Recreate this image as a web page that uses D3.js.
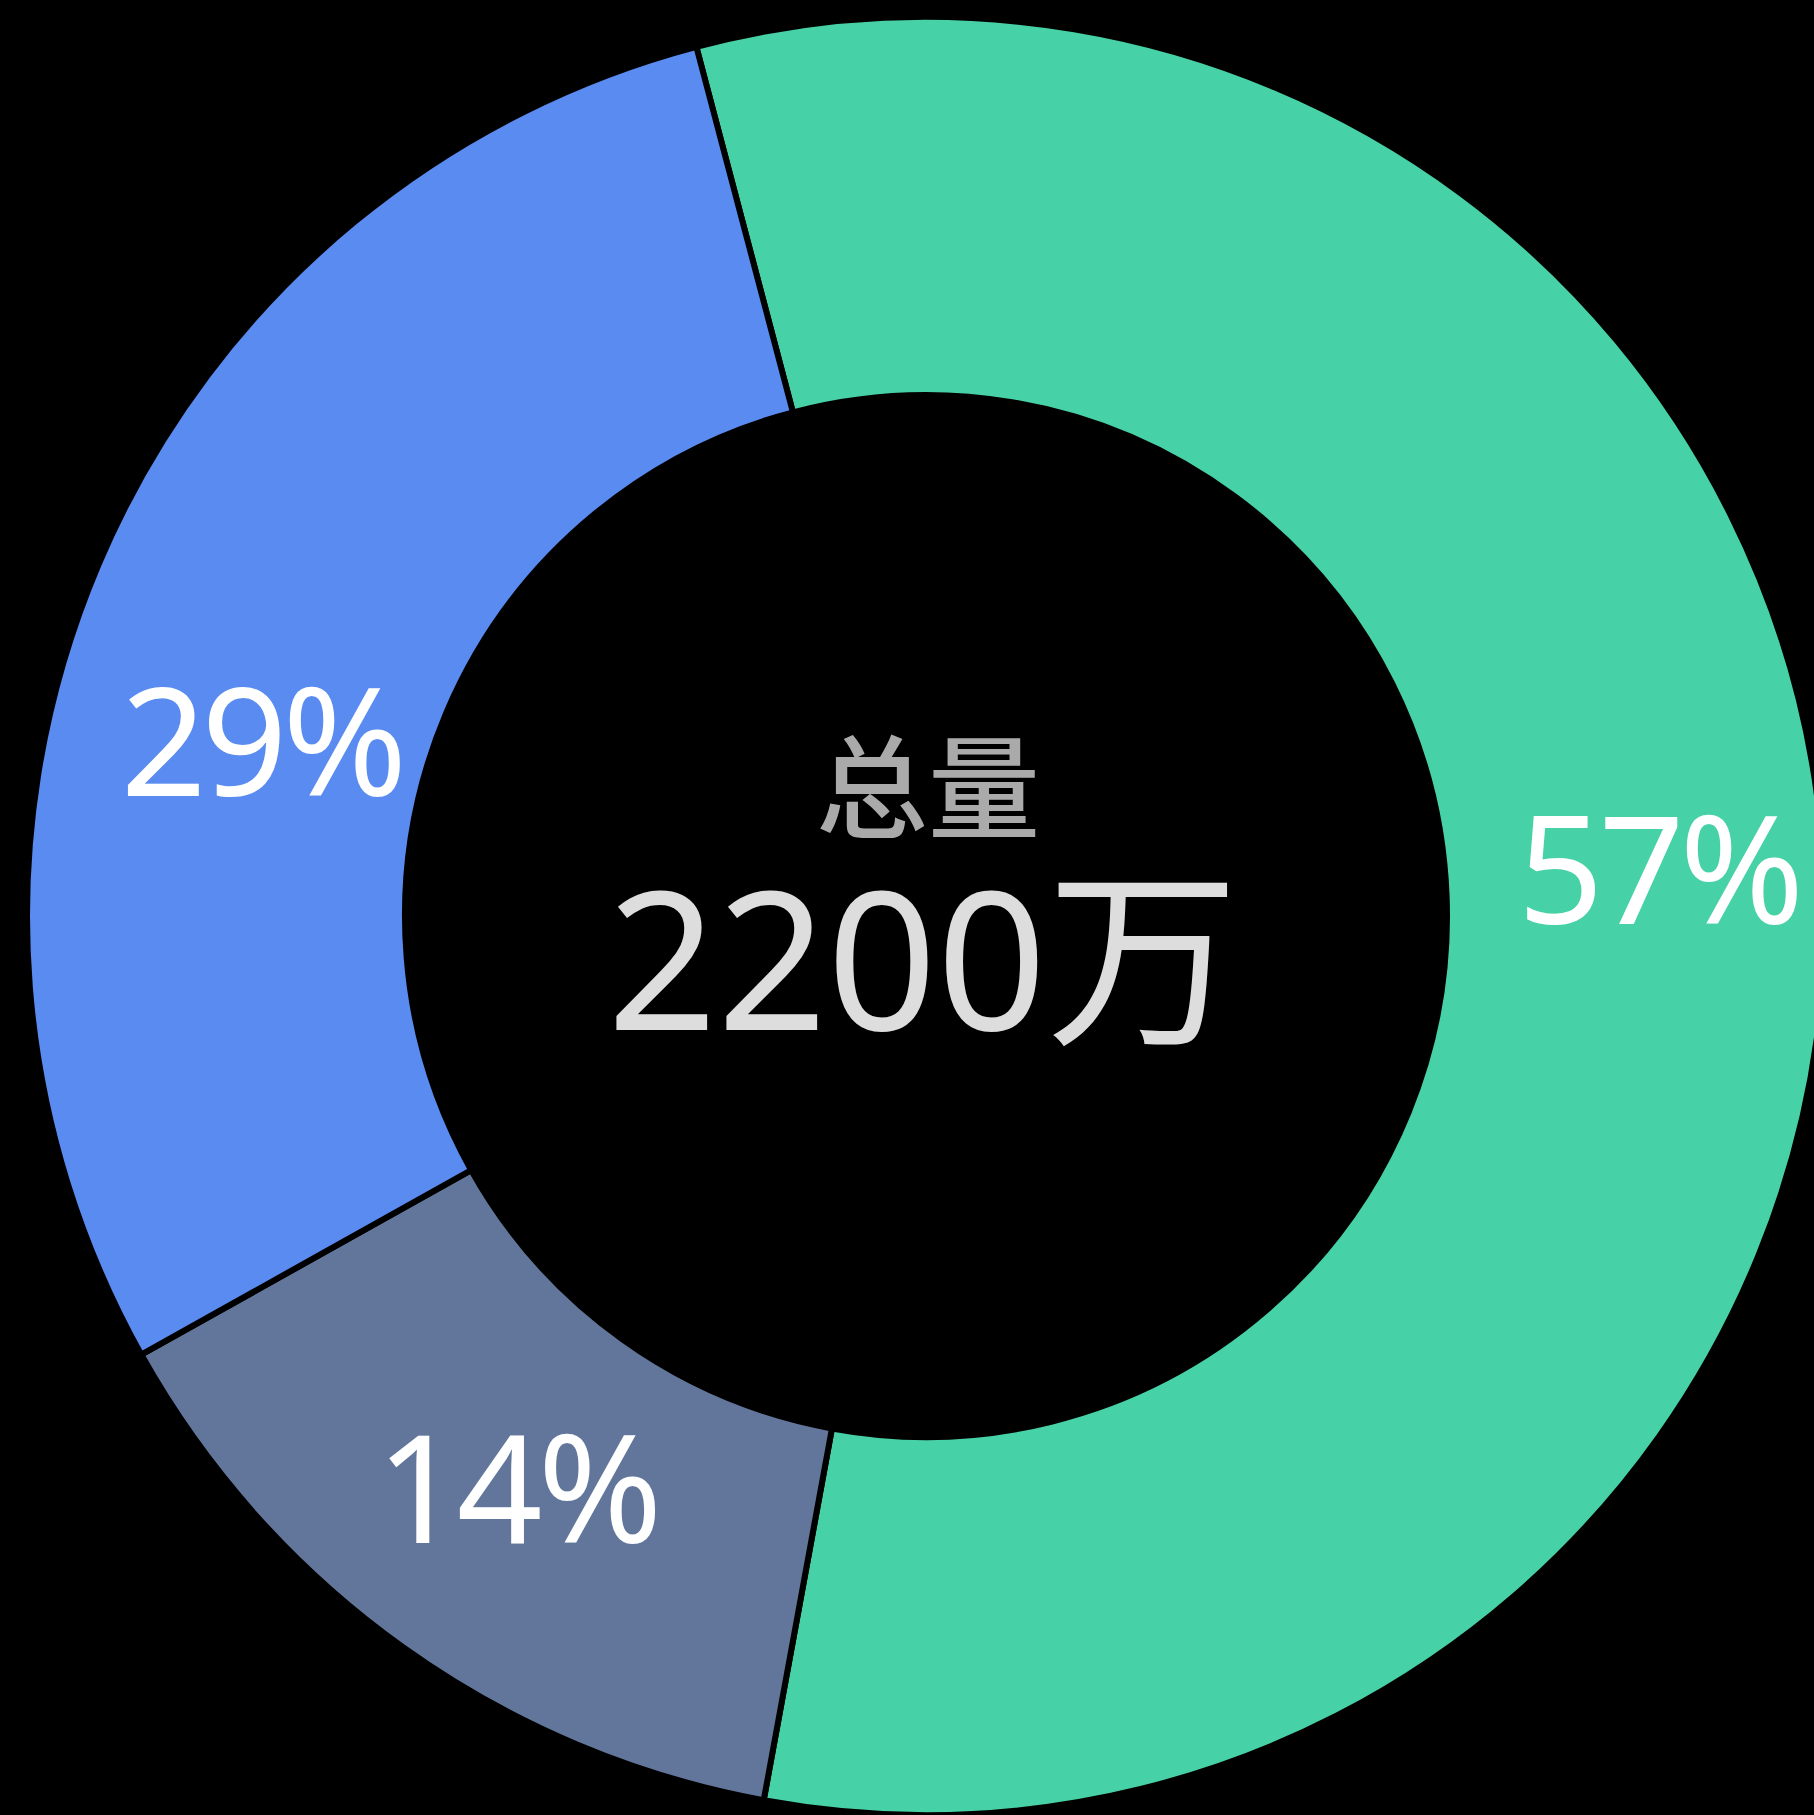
<!DOCTYPE html>
<html>
<head>
<meta charset="utf-8">
<script src="https://cdn.jsdelivr.net/npm/d3@7"></script>
<style>
  html, body { margin: 0; padding: 0; background: #000; }
  svg { display: block; }
</style>
</head>
<body>
<svg id="donut" width="1814" height="1815"></svg>
<script>
// slice data, clockwise from just left of 12 o'clock
const categories = ["A", "B", "C"];
const shares = [57, 14, 29];
const labels = ["57%", "14%", "29%"];
const colors = ["#47d1a6", "#62769b", "#598bf0"];
const centerTitle = "总量";
const centerValue = "2200万";

const width = 1814;
const height = 1815;
const cx = 926, cy = 916;
const outerR = 899, innerR = 521;

const data = categories.map((c, i) => ({ category: c, value: shares[i], label: labels[i], color: colors[i] }));

const svg = d3.select("#donut");
svg.append("rect").attr("width", width).attr("height", height).attr("fill", "#000");

const start = -14.8 * Math.PI / 180;
const pie = d3.pie()
  .sort(null)
  .value(d => d.value)
  .startAngle(start)
  .endAngle(start + 2 * Math.PI);

const arc = d3.arc().innerRadius(innerR).outerRadius(outerR);

const g = svg.append("g").attr("transform", `translate(${cx},${cy})`);
const arcs = pie(data);

g.selectAll("path")
  .data(arcs)
  .join("path")
  .attr("d", arc)
  .attr("fill", d => d.data.color)
  .attr("stroke", "#000")
  .attr("stroke-width", 6);

// labels sit near the centroid; the 29% one is pushed down a bit like in the original
const nudge = { A: [23, -19], B: [4, -4], C: [-11, 103] };
g.selectAll("text.pct")
  .data(arcs)
  .join("text")
  .attr("class", "pct")
  .attr("x", d => arc.centroid(d)[0] + nudge[d.data.category][0])
  .attr("y", d => arc.centroid(d)[1] + nudge[d.data.category][1])
  .attr("text-anchor", "middle")
  .attr("dy", "0.36em")
  .attr("fill", "#fff")
  .style("font-family", "'Noto Sans', 'Noto Sans CJK SC', sans-serif")
  .style("font-size", "150px")
  .style("letter-spacing", "-5px")
  .text(d => d.data.label);

g.append("text")
  .attr("x", 2)
  .attr("y", -126)
  .attr("text-anchor", "middle")
  .attr("dy", "0.36em")
  .attr("fill", "#aaa")
  .style("font-family", "'Noto Sans CJK SC', sans-serif")
  .style("font-size", "112px")
  .style("font-weight", 500)
  .text(centerTitle);

g.append("text")
  .attr("x", -3)
  .attr("y", 45)
  .attr("text-anchor", "middle")
  .attr("dy", "0.36em")
  .attr("fill", "#ddd")
  .style("font-family", "'Noto Sans', 'Noto Sans CJK SC', sans-serif")
  .style("font-size", "192px")
  .text(centerValue);
</script>
</body>
</html>
